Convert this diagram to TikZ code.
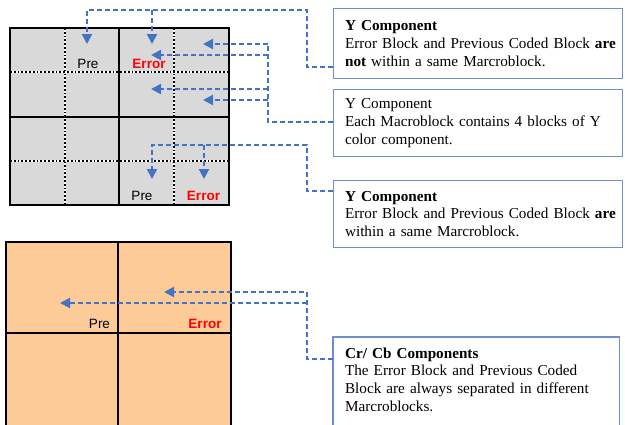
\documentclass[tikz,border=0pt]{standalone}
\usepackage{fontspec}
\setmainfont{Liberation Serif}
\setsansfont{Liberation Sans}
\usepackage{tikz}
\usepackage{xcolor}
\usetikzlibrary{arrows.meta}

\definecolor{linkblue}{HTML}{4472C4}
\definecolor{boxblue}{HTML}{6E8FCB}
\definecolor{lumagray}{HTML}{D9D9D9}
\definecolor{chromapeach}{HTML}{FDCB98}
\definecolor{errred}{HTML}{FF0000}

\begin{document}
\begin{tikzpicture}[x=1pt, y=-1pt,
		link/.style={draw=linkblue, line width=2pt, dash pattern=on 5pt off 3pt},
		linkarrow/.style={link, -{Triangle[length=10pt, width=10pt]}},
		note/.style={draw=boxblue, line width=1.1pt, fill=white, anchor=north west, align=left,
			text width=266pt, inner xsep=11.5pt, inner ysep=0pt,
			font=\fontsize{15.2}{17.7}\selectfont},
		cell/.style={font=\sffamily\fontsize{13.5}{16}\selectfont, inner sep=0pt},
		errtext/.style={cell, text=errred, font=\sffamily\bfseries\fontsize{13.5}{16}\selectfont}]
	
	\useasboundingbox (0,0) rectangle (625,424);
	
	% Y component macroblocks
	\begin{scope}
		\fill[lumagray] (10,28) rectangle (229,205);
		\foreach \x in {65,174} {
			\draw[white, line width=1.8pt] (\x,28) -- (\x,205);
			\draw[black, line width=1.8pt, dotted] (\x,28) -- (\x,205);
		}
		\foreach \y in {72,161} {
			\draw[white, line width=1.8pt] (10,\y) -- (230,\y);
			\draw[black, line width=1.8pt, dotted] (10,\y) -- (229,\y);
		}
		\draw[line width=1.7pt] (119,28) -- (119,205);
		\draw[line width=1.7pt] (10,117) -- (229,117);
		\draw[line width=2pt] (10,28) rectangle (229,205);
		
		\node[cell] (pre1) at (88,64) {Pre};
		\node[errtext] (err1) at (149,64) {Error};
		\node[cell] (pre2) at (142,196) {Pre};
		\node[errtext] (err2) at (203.5,196) {Error};
	\end{scope}
	
	% Cr/Cb macroblocks
	\begin{scope}
		\fill[chromapeach] (6,242) rectangle (231,430);
		\draw[line width=1.7pt] (118,242) -- (118,430);
		\draw[line width=1.7pt] (6,333) -- (231,333);
		\draw[line width=2pt] (6,430) -- (6,242) -- (231,242) -- (231,430);
		
		\node[cell] (pre3) at (99.5,324) {Pre};
		\node[errtext] (err3) at (205,324) {Error};
	\end{scope}
	
	% notes
	\node[note, minimum height=70pt] (notenot) at (333,8)
		{\textbf{Y Component}\\\mbox{Error Block and Previous Coded Block \textbf{are}}\\\textbf{not} within a same Marcroblock.};
	\node[note, minimum height=67pt] (noteeach) at (333,89)
		{Y Component\\Each Macroblock contains 4 blocks of Y\\color component.};
	\node[note, minimum height=67pt] (notesame) at (333,180)
		{\textbf{Y Component}\\\mbox{Error Block and Previous Coded Block \textbf{are}}\\within a same Marcroblock.};
	\node[note, draw=none, minimum height=84pt, text width=262pt] (notechroma) at (333,337)
		{\textbf{Cr/ Cb Components}\\The Error Block and Previous Coded\\Block are always separated in different\\Marcroblocks.};
	% this one runs off the page
	\draw[boxblue, line width=1.1pt] ([yshift=-14pt]notechroma.south west) |- (notechroma.north east)
		-- ([yshift=-14pt]notechroma.south east);
	
	% corner points of the links
	\coordinate (k1) at (333,67);
	\coordinate (t1) at (307,10);
	\coordinate (a1) at (87,44);
	\coordinate (b1) at (152,10);
	\coordinate (a2) at (152,44);
	
	\coordinate (k2) at (333,122);
	\coordinate (m1) at (268,44);
	\coordinate (m2) at (268,55);
	\coordinate (m3) at (268,89);
	\coordinate (m4) at (268,100);
	\coordinate (a3) at (203,44);
	\coordinate (a4) at (151,55);
	\coordinate (a5) at (151,89);
	\coordinate (a6) at (203,100);
	
	\coordinate (k3) at (333,191);
	\coordinate (t3) at (307,145);
	\coordinate (a7) at (152,179);
	\coordinate (b3) at (204,145);
	\coordinate (a8) at (204,179);
	
	\coordinate (k4) at (333,359);
	\coordinate (t4) at (307,292);
	\coordinate (m5) at (307,303);
	\coordinate (a9) at (164,292);
	\coordinate (a10) at (60,303);
	
	% links
	\draw[linkarrow] (k1) -| (t1) -| (a1);
	\draw[linkarrow] (b1) -- (a2);
	
	\draw[link] (k2) -| (m1);
	\draw[linkarrow] (m1) -- (a3);
	\draw[linkarrow] (m2) -- (a4);
	\draw[linkarrow] (m3) -- (a5);
	\draw[linkarrow] (m4) -- (a6);
	
	\draw[linkarrow] (k3) -| (t3) -| (a7);
	\draw[linkarrow] (b3) -- (a8);
	
	\draw[linkarrow] (k4) -| (t4) -- (a9);
	\draw[linkarrow] (m5) -- (a10);
	
\end{tikzpicture}
\end{document}
